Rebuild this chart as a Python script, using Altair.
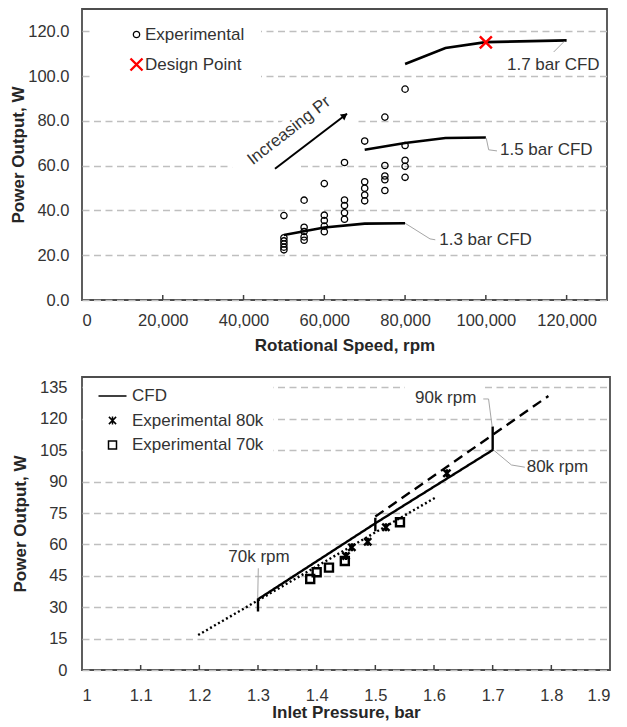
import altair as alt
import pandas as pd

FONT = "Liberation Sans"
TXT = "#333333"
GRID = "#BFBFBF"
LEADER = "#A6A6A6"

# ---------------- Top chart values ----------------
top_x_ticks = [0, 20000, 40000, 60000, 80000, 100000, 120000]
top_y_ticks = [0, 20, 40, 60, 80, 100, 120]

exp_speeds = [50000, 55000, 60000, 65000, 70000, 75000, 80000]
exp_power = [
    [37.7, 27.8, 26.4, 25.0, 23.6, 22.4],
    [44.6, 32.5, 30.6, 28.2, 26.7],
    [52.0, 37.9, 35.5, 33.0, 30.5],
    [61.4, 44.7, 42.2, 39.0, 36.1],
    [71.0, 52.8, 49.9, 46.9, 44.3],
    [81.7, 60.1, 55.4, 53.7, 48.9],
    [94.2, 69.0, 62.4, 59.7, 54.8],
]
design_speed = [100000]
design_power = [115.1]

cfd_names = ["1.3 bar CFD", "1.5 bar CFD", "1.7 bar CFD"]
cfd_speeds = [[50000, 60000, 70000, 80000],
              [70000, 80000, 90000, 100000],
              [80000, 90000, 100000, 120000]]
cfd_power = [[29.0, 32.4, 34.1, 34.3],
             [67.1, 70.1, 72.4, 72.6],
             [105.4, 112.6, 115.2, 116.0]]
cfd_label_x = [88450, 103500, 105240]
cfd_label_y = [26.8, 66.8, 105.1]
cfd_leader_x = [[80000, 86170, 87480], [100100, 100700, 102760], [116800, 119400]]
cfd_leader_y = [[34.3, 27.3, 26.9], [72.3, 67.1, 66.6], [110.8, 115.5]]

arrow_x = [47790, 65620]
arrow_y = [58.6, 83.2]
arrow_head_x = [64830]
arrow_head_y = [82.1]
pr_label = ["Increasing Pr"]
pr_label_x = [51260]
pr_label_y = [75.6]
pr_box_x = [52990]
pr_box_y = [71.5]

# ---------------- Bottom chart values ----------------
bot_x_ticks = [1.0, 1.1, 1.2, 1.3, 1.4, 1.5, 1.6, 1.7, 1.8, 1.9]
bot_y_ticks = [0, 15, 30, 45, 60, 75, 90, 105, 120, 135]

seg_x = [[1.3, 1.3, 1.5, 1.7, 1.7], [1.5, 1.5], [1.5, 1.795], [1.198, 1.605]]
seg_y = [[27.9, 33.8, 70.1, 105.1, 116.3], [66.3, 72.7], [73.3, 130.9], [16.7, 82.8]]
seg_style = ["solid", "solid", "dashed", "dotted"]

exp80_p = [1.450, 1.460, 1.487, 1.518, 1.622]
exp80_w = [54.5, 58.6, 61.3, 68.2, 94.0]
exp70_p = [1.389, 1.400, 1.421, 1.448, 1.542]
exp70_w = [43.5, 46.7, 48.9, 52.1, 70.6]

rpm_labels = ["90k rpm", "80k rpm", "70k rpm"]
rpm_label_x = [1.5676, 1.758, 1.2494]
rpm_label_y = [129.8, 96.9, 53.9]
rpm_leader_x = [[1.684, 1.693, 1.699], [1.7015, 1.732, 1.7548], [1.3005, 1.2995]]
rpm_leader_y = [[129.5, 129.5, 116.5], [105.1, 97.96, 96.9], [48.6, 34.3]]
rpm90_box_x = [1.6187]
rpm90_box_y = [130.0]

XPATH = "M-1.9,-1.9L1.9,1.9M-1.9,1.9L1.9,-1.9"
STARPATH = "M-0.9,-0.9L0.9,0.9M-0.9,0.9L0.9,-0.9M0,-1L0,1"
LINEPATH = "M-3.5,0L3.5,0"
BOXPATH = "M-1,-0.343L1,-0.343L1,0.343L-1,0.343Z"
LABELBOXPATH = "M-1,-0.3L1,-0.3L1,0.3L-1,0.3Z"

TOP_W, TOP_H = 525, 291
BOT_W, BOT_H = 528, 293

# ---------------- dataframes ----------------
rows = []
for s, ps in zip(exp_speeds, exp_power):
    for p in ps:
        rows.append({"x": s, "y": p, "series": "Experimental"})
for s, p in zip(design_speed, design_power):
    rows.append({"x": s, "y": p, "series": "Design Point"})
top_pts = pd.DataFrame(rows)

rows = []
for n, xs, ys in zip(cfd_names, cfd_speeds, cfd_power):
    for i, (a, b) in enumerate(zip(xs, ys)):
        rows.append({"x": a, "y": b, "curve": n, "i": i})
top_cfd = pd.DataFrame(rows)

rows = []
for k, (xs, ys) in enumerate(zip(cfd_leader_x, cfd_leader_y)):
    for i, (a, b) in enumerate(zip(xs, ys)):
        rows.append({"x": a, "y": b, "g": k, "i": i})
top_lead = pd.DataFrame(rows)
top_lab = pd.DataFrame({"x": cfd_label_x, "y": cfd_label_y, "t": cfd_names})
arrow_df = pd.DataFrame({"x": arrow_x, "y": arrow_y, "i": [0, 1]})
head_df = pd.DataFrame({"x": arrow_head_x, "y": arrow_head_y})
pr_df = pd.DataFrame({"x": pr_label_x, "y": pr_label_y, "t": pr_label})
box_df = pd.DataFrame({"x": pr_box_x, "y": pr_box_y})
top_tick_df = pd.DataFrame({"x": top_x_ticks[1:]})

rows = []
for k, (xs, ys, st) in enumerate(zip(seg_x, seg_y, seg_style)):
    for i, (a, b) in enumerate(zip(xs, ys)):
        rows.append({"x": a, "y": b, "g": k, "i": i, "style": st})
bot_cfd = pd.DataFrame(rows)

rows = []
for a, b in zip(exp80_p, exp80_w):
    rows.append({"x": a, "y": b, "series": "Experimental 80k"})
for a, b in zip(exp70_p, exp70_w):
    rows.append({"x": a, "y": b, "series": "Experimental 70k"})
bot_pts = pd.DataFrame(rows)

rows = []
for k, (xs, ys) in enumerate(zip(rpm_leader_x, rpm_leader_y)):
    for i, (a, b) in enumerate(zip(xs, ys)):
        rows.append({"x": a, "y": b, "g": k, "i": i})
bot_lead = pd.DataFrame(rows)
bot_lab = pd.DataFrame({"x": rpm_label_x, "y": rpm_label_y, "t": rpm_labels})
bot_box_df = pd.DataFrame({"x": rpm90_box_x, "y": rpm90_box_y})
bot_tick_df = pd.DataFrame({"x": bot_x_ticks[1:-1]})


# ---------------- encodings ----------------
def tx():
    return alt.X("x:Q", scale=alt.Scale(domain=[0, 130000], nice=False, zero=False),
                 axis=alt.Axis(values=top_x_ticks, format=",.0f", title="Rotational Speed, rpm",
                               grid=False, ticks=False, domain=False, labelPadding=12,
                               titlePadding=9))


def ty():
    return alt.Y("y:Q", scale=alt.Scale(domain=[0, 130], nice=False, zero=False),
                 axis=alt.Axis(values=top_y_ticks, format=".1f", title="Power Output, W",
                               grid=True, gridDash=[7, 4.5], gridColor=GRID, gridWidth=1.3,
                               ticks=False, domain=False, labelPadding=13, titlePadding=0))


def bx():
    return alt.X("x:Q", scale=alt.Scale(domain=[1.0, 1.9], nice=False, zero=False),
                 axis=alt.Axis(values=bot_x_ticks, format="~g", title="Inlet Pressure, bar",
                               grid=False, ticks=False, domain=False, labelPadding=17,
                               titlePadding=1))


def by():
    return alt.Y("y:Q", scale=alt.Scale(domain=[0, 140], nice=False, zero=False),
                 axis=alt.Axis(values=bot_y_ticks, format="d", title="Power Output, W",
                               grid=True, gridDash=[7, 4.5], gridColor=GRID, gridWidth=1.3,
                               ticks=False, domain=False, labelPadding=15, titlePadding=10))


# ---------------- top chart ----------------
box = alt.Chart(box_df).mark_point(shape=BOXPATH, filled=True, color="white", opacity=1,
                                   size=17956, angle=322, strokeWidth=0).encode(x=tx(), y=ty())

cfd_lines = alt.Chart(top_cfd).mark_line(color="black", strokeWidth=2.6).encode(
    x=tx(), y=ty(), detail="curve:N", order="i:Q")

leaders = alt.Chart(top_lead).mark_line(color=LEADER, strokeWidth=1).encode(
    x=tx(), y=ty(), detail="g:N", order="i:Q")

labels = alt.Chart(top_lab).mark_text(align="left", baseline="middle", font=FONT,
                                      fontSize=17, color=TXT).encode(x=tx(), y=ty(), text="t:N")

arrow = alt.Chart(arrow_df).mark_line(color="black", strokeWidth=2).encode(
    x=tx(), y=ty(), order="i:Q")
head = alt.Chart(head_df).mark_point(shape="triangle", filled=True, color="black", opacity=1,
                                     size=55, angle=52.6).encode(x=tx(), y=ty())
pr_text = alt.Chart(pr_df).mark_text(align="center", baseline="middle", font=FONT, fontSize=17,
                                     color=TXT, angle=322).encode(x=tx(), y=ty(), text="t:N")

top_leg = alt.Legend(title=None, orient="none", legendX=12, legendY=1, padding=16,
                     fillColor="white", labelFont=FONT, labelFontSize=17, labelColor=TXT,
                     symbolSize=40, symbolOffset=18, labelOffset=0, rowPadding=10)
top_dom = ["Experimental", "Design Point"]
pts = alt.Chart(top_pts).mark_point(filled=False, opacity=1, size=40).encode(
    x=tx(), y=ty(),
    color=alt.Color("series:N", scale=alt.Scale(domain=top_dom, range=["black", "#FF0000"]),
                    legend=top_leg),
    shape=alt.Shape("series:N", scale=alt.Scale(domain=top_dom, range=["circle", XPATH]),
                    legend=top_leg),
    strokeWidth=alt.StrokeWidth("series:N", scale=alt.Scale(domain=top_dom, range=[1.3, 2.4]),
                                legend=top_leg),
)

top_ticks = alt.Chart(top_tick_df).mark_rule(color="#404040", strokeWidth=1.5).encode(
    x=tx(), y=alt.value(TOP_H), y2=alt.value(TOP_H - 5))

top = alt.layer(box, cfd_lines, leaders, labels, arrow, head, pr_text, pts, top_ticks).properties(
    width=TOP_W, height=TOP_H)

# ---------------- bottom chart ----------------
bbox = alt.Chart(bot_box_df).mark_point(shape=LABELBOXPATH, filled=True, color="white", opacity=1,
                                        size=6400, strokeWidth=0).encode(x=bx(), y=by())

bcfd = alt.Chart(bot_cfd).mark_line(color="black").encode(
    x=bx(), y=by(), detail="g:N", order="i:Q",
    strokeDash=alt.StrokeDash("style:N", scale=alt.Scale(domain=["solid", "dashed", "dotted"],
                                                         range=[[1, 0], [10, 6], [2, 2.6]]),
                              legend=None),
    strokeWidth=alt.StrokeWidth("style:N", scale=alt.Scale(domain=["solid", "dashed", "dotted"],
                                                           range=[2.4, 2.4, 2.0]),
                                legend=None),
)

bleaders = alt.Chart(bot_lead).mark_line(color=LEADER, strokeWidth=1).encode(
    x=bx(), y=by(), detail="g:N", order="i:Q")
blabels = alt.Chart(bot_lab).mark_text(align="left", baseline="middle", font=FONT,
                                       fontSize=17, color=TXT).encode(x=bx(), y=by(), text="t:N")

bot_leg = alt.Legend(title=None, orient="none", legendX=1, legendY=1, padding=9.5,
                     fillColor="white", labelFont=FONT, labelFontSize=17, labelColor=TXT,
                     symbolSize=64, symbolOffset=11.5, labelOffset=11, rowPadding=6.5)
bot_dom = ["CFD", "Experimental 80k", "Experimental 70k"]
bpts = alt.Chart(bot_pts).mark_point(filled=False, opacity=1, size=64).encode(
    x=bx(), y=by(),
    color=alt.Color("series:N", scale=alt.Scale(domain=bot_dom, range=["black", "black", "black"]),
                    legend=bot_leg),
    shape=alt.Shape("series:N", scale=alt.Scale(domain=bot_dom, range=[LINEPATH, STARPATH, "square"]),
                    legend=bot_leg),
    strokeWidth=alt.StrokeWidth("series:N", scale=alt.Scale(domain=bot_dom, range=[2.4, 1.6, 1.3]),
                                legend=bot_leg),
)

bot_ticks = alt.Chart(bot_tick_df).mark_rule(color="#404040", strokeWidth=1.5).encode(
    x=bx(), y=alt.value(BOT_H), y2=alt.value(BOT_H - 5))

bottom = alt.layer(bbox, bcfd, bleaders, blabels, bpts, bot_ticks).properties(
    width=BOT_W, height=BOT_H)

chart = alt.vconcat(top, bottom, spacing=21).resolve_scale(
    x="independent", y="independent", color="independent", shape="independent",
    strokeWidth="independent", strokeDash="independent"
).resolve_legend(color="independent", shape="independent", strokeWidth="independent").properties(
    padding={"left": 0, "top": 0, "right": 5, "bottom": 3}
).configure_view(stroke="#4D4D4D", strokeWidth=1.8).configure_axis(
    labelFont=FONT, labelFontSize=16.5, labelColor=TXT,
    titleFont=FONT, titleFontSize=17, titleFontWeight="bold", titleColor="#262626"
)

chart.save("out.html", embed_options={"renderer": "svg", "actions": False})
